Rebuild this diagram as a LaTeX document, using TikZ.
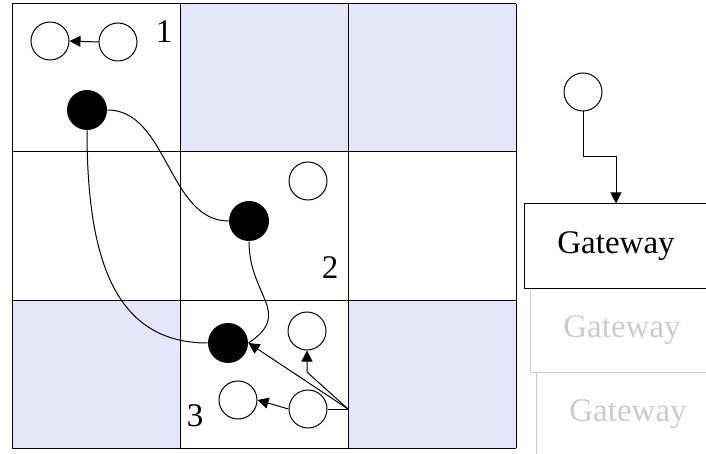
\documentclass[tikz,border=0pt]{standalone}
\usepackage{fontspec}
\setmainfont{Liberation Serif}
\usetikzlibrary{arrows.meta,calc}
\definecolor{cellblue}{RGB}{230,230,250}
\definecolor{ghostgray}{RGB}{204,204,204}

\begin{document}
\begin{tikzpicture}[
  x=1pt,y=-1pt,
  line width=1pt,
  every node/.style={font=\fontsize{33}{40}\selectfont},
  freenode/.style={circle,draw,fill=white,minimum size=38pt,inner sep=0pt},
  busynode/.style={circle,fill=black,minimum size=40pt,inner sep=0pt},
  link/.style={-{Triangle[length=11pt,width=11pt]}},
  gwbox/.style={draw,fill=white,minimum width=184pt,minimum height=84pt,inner sep=0pt},
  ghostbox/.style={gwbox,draw=ghostgray,text=ghostgray}
]

\useasboundingbox (0,0) rectangle (706,454);

% ==================================================
% 3x3 のセル
% ==================================================
\begin{scope}

  % 色付きのセル
  \foreach \c/\r in {1/0,2/0,0/2,2/2}{
    \fill[cellblue]
      (12+168*\c,4+148*\r) rectangle ++(168,148);
  }

  % 格子
  \foreach \x in {12,180,348,516}{
    \draw (\x,4) -- (\x,448);
  }
  \foreach \y in {4,152,300,448}{
    \draw (12,\y) -- (516,\y);
  }

  % セル番号
  \node (lab1) at (164,32) {1};
  \node (lab2) at (330,268) {2};
  \node (lab3) at (195,416) {3};

\end{scope}

% ==================================================
% ノード
% ==================================================
\node[freenode] (w1) at (50,41) {};
\node[freenode] (w0) at (118,42) {};
\node[freenode] (w3) at (308,181) {};
\node[freenode] (w2) at (307,331) {};
\node[freenode] (w4) at (238,400) {};
\node[freenode] (w5) at (308,409) {};

\node[busynode] (b1) at (87,110) {};
\node[busynode] (b2) at (249,221) {};
\node[busynode] (b3) at (228,343) {};

% 経路
\draw (b1.east)
  .. controls +(60,0) and +(-60,0) .. (b2.west);
\draw (b1.south)
  .. controls +(0,126) and +(-94,0) .. (b3.west);
\draw (b2.south)
  .. controls +(0,55) and +(45,-30) .. (b3.east);

% 矢印
\draw[link] (w0.west) -- (w1.east);
\draw[link] (w5.west) -- (w4.east);

\coordinate (hub) at (348,409);
\coordinate (bend) at (307,372);
\draw (w5.east) -- (hub);
\draw[link] (hub) -- (b3.east);
\draw[link] (hub) -- (bend) -- (w2.south);

% ==================================================
% Gateway の束
% ==================================================
\node[ghostbox] (gw3) at (628,414) {Gateway};
\node[ghostbox] (gw2) at (622,330) {Gateway};
\node[gwbox] (gw) at (616,246) {Gateway};

\node[freenode] (g0) at (583,92) {};
\coordinate (gbend) at (583,157);
\draw[link] (g0.south) -- (gbend) -| (gw.north);

\end{tikzpicture}
\end{document}
